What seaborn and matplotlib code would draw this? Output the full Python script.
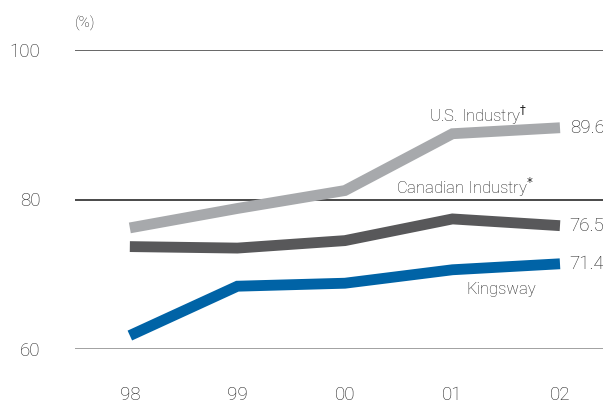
import pandas as pd
import matplotlib.pyplot as plt
import seaborn as sns

# Loss ratios (%)
years = ["98", "99", "00", "01", "02"]
us_industry = [76.2, 78.8, 81.2, 88.8, 89.6]
canadian_industry = [73.7, 73.5, 74.5, 77.4, 76.5]
kingsway = [61.8, 68.4, 68.8, 70.6, 71.4]

series_names = ["U.S. Industry", "Canadian Industry", "Kingsway"]
colors = ["#a7a9ac", "#58585a", "#0063a6"]

df = pd.DataFrame({
    "year": years * 3,
    "value": us_industry + canadian_industry + kingsway,
    "series": [s for s in series_names for _ in years],
})

sns.set_theme(style="white")
plt.rcParams["font.family"] = ["Roboto", "DejaVu Sans"]
plt.rcParams["mathtext.fontset"] = "dejavusans"
text_color = "#1e1e1e"

fig = plt.figure(figsize=(6.03, 4.03), dpi=100)
ax = fig.add_axes([75 / 603, 1 - 349 / 403, 1 - 75 / 603, 299 / 403])

# gridlines first so lines sit on top
for v, c in [(100, "#5a5a5a"), (80, "#3a3a3a"), (60, "#9a9a9a")]:
    ax.axhline(v, color=c, lw=1.3, zorder=1)

sns.lineplot(
    data=df, x="year", y="value", hue="series", hue_order=series_names,
    palette=colors, linewidth=7.8, sort=False, legend=False, ax=ax,
    solid_capstyle="butt", solid_joinstyle="miter", zorder=3,
)

ax.set_xlim(-0.51, 4.4)
ax.set_ylim(60, 100)
ax.set_yticks([60, 80, 100])
ax.set_xlabel("")
ax.set_ylabel("")
ax.tick_params(axis="y", length=0, pad=25, labelsize=13.5, colors=text_color)
ax.tick_params(axis="x", length=0, pad=27, labelsize=13.5, colors=text_color)
for lab in ax.get_xticklabels() + ax.get_yticklabels():
    lab.set_fontweight("light")
sns.despine(ax=ax, left=True, bottom=True)

# value labels at the end of each line
for vals in [us_industry, canadian_industry, kingsway]:
    ax.annotate(f"{vals[-1]:.1f}", (len(years) - 1, vals[-1]), xytext=(7, 0),
                textcoords="offset points", va="center", ha="left",
                fontsize=13.5, color=text_color, fontweight="light",
                annotation_clip=False)

# series names
ax.text(3.24, 91.3, r"U.S. Industry$^{\dagger}$", ha="center", va="center",
        fontsize=12, color=text_color, fontweight="light")
ax.text(3.12, 81.6, r"Canadian Industry$^{*}$", ha="center", va="center",
        fontsize=12, color=text_color, fontweight="light")
ax.text(3.45, 68.0, "Kingsway", ha="center", va="center",
        fontsize=12, color=text_color, fontweight="light")

ax.text(0.0, 1.09, "(%)", transform=ax.transAxes, ha="left", va="center",
        fontsize=11, color=text_color, fontweight="light")

fig.savefig("out.png", dpi=100)
plt.close(fig)
